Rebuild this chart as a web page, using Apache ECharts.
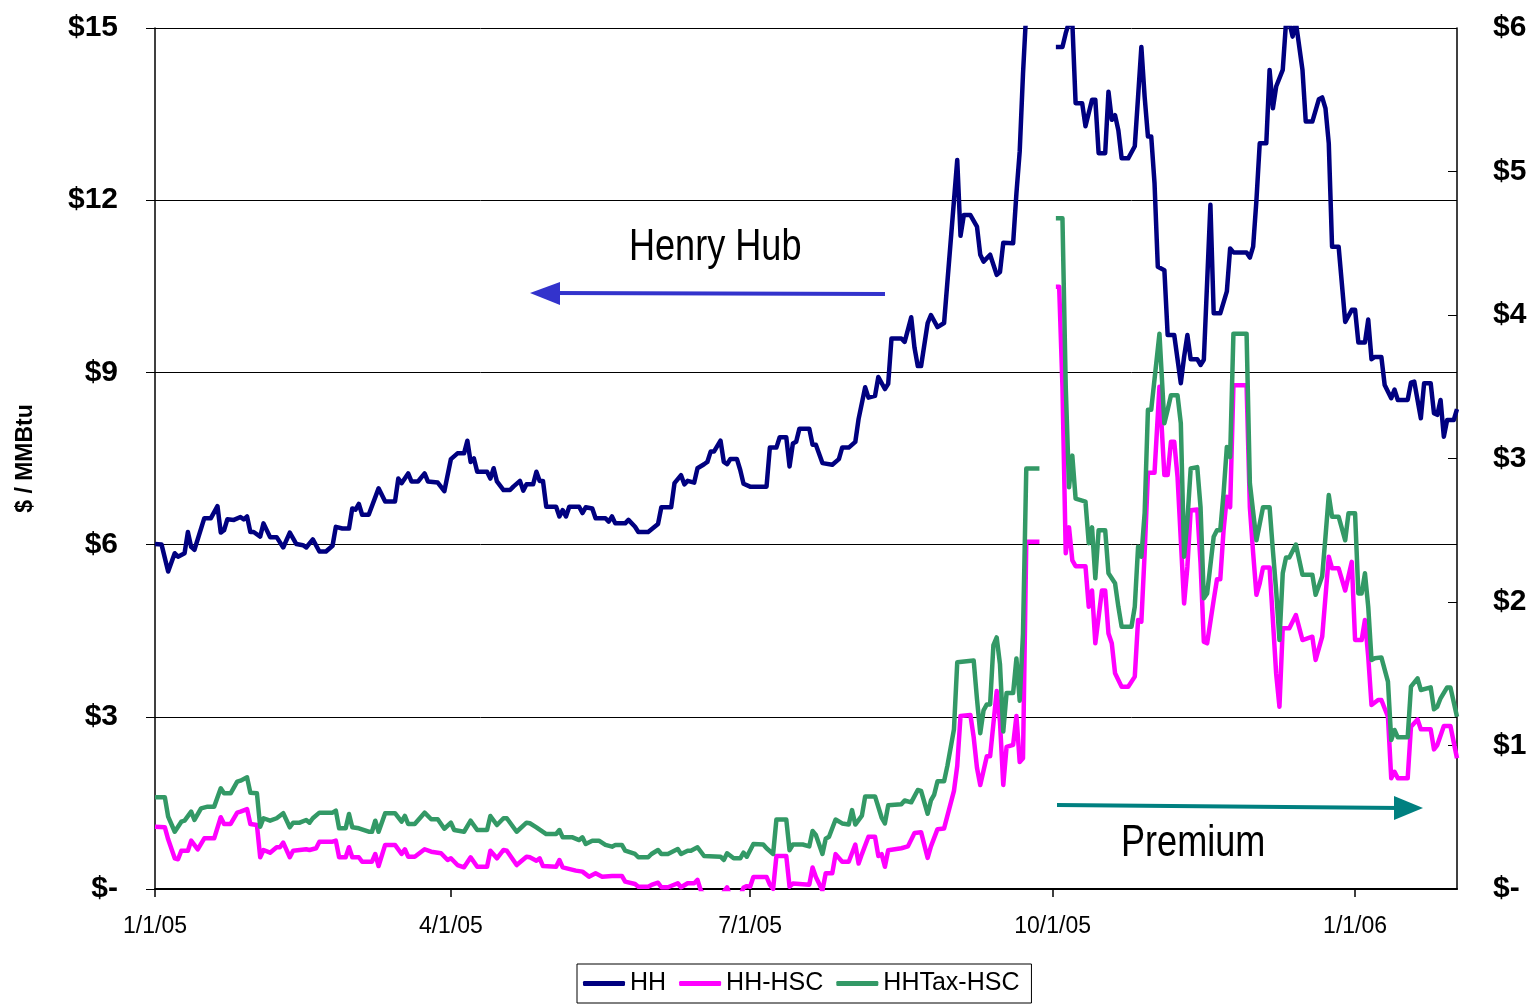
<!DOCTYPE html>
<html>
<head>
<meta charset="utf-8">
<title>Henry Hub vs Premium</title>
<script src="https://cdn.jsdelivr.net/npm/echarts@6/dist/echarts.min.js"></script>
<style>
  html, body { margin: 0; padding: 0; background: #fff; }
  #main { width: 1537px; height: 1005px; }
</style>
</head>
<body>
<div id="main"></div>
<script>
// days counted from 1/1/05, values in $/MMBtu
const hh = [
  [0,6.01],[2,6.00],[4,5.53],[6,5.85],[7,5.79],[9,5.85],[10,6.22],[11,5.96],[12,5.91],[15,6.46],[17,6.46],[19,6.67],[20,6.21],[21,6.25],[22,6.44],[24,6.43],[26,6.48],[27,6.44],[28,6.49],[29,6.22],[30,6.22],[32,6.14],[33,6.37],[35,6.13],[37,6.13],[39,5.95],[41,6.21],[43,6.01],[45,5.99],[46,5.95],[48,6.09],[50,5.88],[52,5.88],[54,5.98],[55,6.31],[57,6.28],[59,6.28],[60,6.63],[61,6.61],[62,6.71],[63,6.52],[65,6.52],[68,6.98],[70,6.75],[73,6.75],[74,7.15],[75,7.07],[77,7.24],[78,7.10],[80,7.10],[82,7.24],[83,7.10],[86,7.08],[88,6.93],[90,7.49],[92,7.59],[94,7.59],[95,7.81],[96,7.44],[97,7.50],[98,7.27],[101,7.27],[102,7.15],[103,7.33],[104,7.10],[106,6.95],[108,6.95],[109,7.01],[111,7.11],[112,6.94],[113,7.05],[115,7.05],[116,7.27],[117,7.11],[118,7.11],[119,6.66],[122,6.66],[123,6.49],[124,6.60],[125,6.49],[126,6.66],[129,6.66],[130,6.55],[131,6.65],[133,6.63],[134,6.46],[137,6.46],[138,6.40],[139,6.49],[140,6.37],[143,6.37],[144,6.43],[146,6.31],[147,6.22],[150,6.22],[153,6.36],[154,6.65],[157,6.65],[158,7.07],[160,7.21],[161,7.05],[162,7.11],[164,7.08],[165,7.33],[167,7.40],[168,7.44],[169,7.62],[170,7.62],[172,7.81],[173,7.44],[174,7.40],[175,7.49],[177,7.49],[178,7.30],[179,7.06],[181,7.01],[186,7.01],[187,7.69],[189,7.69],[190,7.87],[192,7.87],[193,7.36],[194,7.76],[195,7.79],[196,8.02],[199,8.02],[200,7.74],[201,7.74],[203,7.42],[206,7.39],[208,7.49],[209,7.69],[211,7.69],[213,7.79],[214,8.19],[216,8.74],[217,8.56],[219,8.59],[220,8.92],[222,8.71],[223,8.80],[224,9.59],[227,9.59],[228,9.53],[230,9.96],[231,9.43],[232,9.11],[233,9.11],[235,9.86],[236,10.0],[238,9.79],[240,9.86],[244,12.70],[245,11.38],[246,11.74],[248,11.74],[250,11.54],[251,11.05],[252,10.93],[254,11.05],[256,10.70],[257,10.75],[258,11.26],[261,11.25],[262,12.12],[263,12.85],[264,14.2],[265,15.3],[266,16.2],[269,16.2],[270,null],
  [274,14.67],[276,14.67],[277,14.91],[278,15.1],[279,15.1],[280,13.69],[282,13.69],[283,13.29],[285,13.75],[286,13.75],[287,12.82],[289,12.82],[290,13.89],[291,13.40],[292,13.48],[293,13.22],[294,12.73],[296,12.73],[298,12.94],[299,13.80],[300,14.67],[301,13.80],[302,13.11],[303,13.11],[304,12.30],[305,10.84],[306,10.81],[307,10.78],[308,9.65],[310,9.65],[312,8.81],[313,9.27],[314,9.65],[315,9.23],[317,9.23],[318,9.13],[319,9.22],[321,11.92],[322,10.03],[324,10.03],[326,10.41],[327,11.16],[328,11.09],[332,11.09],[333,11.00],[334,11.19],[335,12.0],[336,12.99],[338,12.99],[339,14.27],[340,13.60],[341,13.98],[343,14.27],[344,15.1],[345,15.1],[346,14.85],[347,15.1],[349,14.27],[350,13.37],[352,13.37],[354,13.76],[355,13.79],[356,13.60],[357,12.99],[358,11.19],[360,11.19],[362,9.88],[364,10.09],[365,10.09],[366,9.52],[368,9.52],[369,9.92],[370,9.23],[371,9.27],[373,9.27],[374,8.78],[376,8.55],[377,8.70],[378,8.52],[381,8.52],[382,8.82],[383,8.84],[385,8.20],[386,8.81],[388,8.81],[389,8.29],[390,8.26],[391,8.52],[392,7.88],[393,8.17],[395,8.17],[396,8.36]
];

const hhHsc = [
  [0,0.434],[3,0.430],[4,0.346],[6,0.214],[7,0.207],[8,0.267],[10,0.267],[11,0.337],[13,0.276],[15,0.353],[18,0.353],[20,0.500],[21,0.453],[23,0.453],[25,0.532],[26,0.539],[28,0.557],[29,0.453],[31,0.446],[32,0.221],[33,0.272],[35,0.253],[37,0.291],[38,0.291],[39,0.323],[41,0.221],[42,0.267],[44,0.272],[46,0.277],[47,0.272],[49,0.284],[50,0.330],[54,0.330],[55,0.337],[56,0.221],[58,0.221],[59,0.291],[60,0.221],[62,0.221],[63,0.190],[66,0.190],[67,0.244],[68,0.160],[70,0.307],[73,0.307],[75,0.244],[76,0.277],[77,0.225],[79,0.225],[82,0.277],[84,0.260],[87,0.249],[89,0.202],[90,0.214],[92,0.167],[94,0.151],[96,0.221],[98,0.155],[101,0.155],[102,0.267],[104,0.214],[106,0.272],[107,0.267],[110,0.167],[113,0.225],[114,0.221],[116,0.197],[117,0.214],[118,0.160],[122,0.155],[123,0.202],[124,0.151],[128,0.128],[130,0.121],[132,0.086],[134,0.109],[136,0.086],[139,0.091],[142,0.091],[143,0.051],[146,0.035],[147,0.016],[150,0.016],[151,0.028],[153,0.044],[154,0.012],[156,0.012],[159,0.040],[160,0.012],[162,0.040],[164,0.040],[165,0.063],[166,-0.01],[168,-0.08],[171,-0.1],[173,-0.02],[174,0.012],[175,-0.06],[178,-0.05],[179,0.01],[180,0.02],[181,0.016],[182,0.084],[186,0.084],[187,0.03],[188,0.0],[189,0.23],[192,0.23],[193,0.016],[194,0.038],[199,0.03],[200,0.15],[201,0.084],[203,-0.01],[204,0.11],[206,0.11],[207,0.243],[209,0.19],[211,0.19],[213,0.31],[214,0.177],[215,0.243],[217,0.364],[219,0.364],[220,0.23],[221,0.243],[222,0.155],[223,0.27],[227,0.284],[229,0.297],[231,0.39],[233,0.396],[235,0.217],[236,0.297],[238,0.417],[240,0.422],[243,0.684],[244,0.858],[245,1.206],[248,1.213],[249,1.058],[250,0.845],[251,0.725],[253,0.925],[254,0.925],[256,1.379],[257,1.165],[258,0.725],[259,0.99],[261,1.005],[262,1.206],[263,0.885],[264,0.911],[265,2.42],[269,2.42],[270,null],
  [274,4.197],[275,4.197],[276,3.5],[277,2.34],[278,2.52],[279,2.29],[280,2.25],[283,2.25],[284,1.967],[285,2.08],[286,1.712],[288,2.08],[289,2.08],[290,1.78],[291,1.712],[292,1.503],[294,1.41],[296,1.41],[298,1.48],[299,1.875],[300,1.863],[301,2.34],[302,2.90],[304,2.90],[305.5,3.50],[307,2.885],[308,2.885],[309,3.117],[310,3.117],[311,2.873],[313,1.99],[314,2.246],[315,2.64],[317,2.645],[318,2.27],[319,1.723],[320,1.712],[322,2.014],[323,2.158],[324,2.158],[325,2.50],[326,2.734],[327,2.66],[328,3.51],[332,3.51],[333,2.66],[334,2.34],[335,2.05],[336,2.13],[337,2.24],[339,2.24],[340,1.875],[341,1.50],[342,1.27],[343,1.817],[345,1.817],[347,1.909],[349,1.735],[352,1.758],[353,1.596],[355,1.758],[357,2.316],[358,2.235],[360,2.235],[362,2.08],[364,2.28],[365,1.735],[367,1.735],[368,1.875],[369,1.619],[370,1.282],[372,1.317],[373,1.317],[375,1.20],[376,0.771],[377,0.817],[378,0.771],[381,0.771],[382,1.131],[384,1.182],[385,1.113],[388,1.113],[389,0.973],[390,1.003],[392,1.136],[394,1.136],[396,0.911]
];

const hhTaxHsc = [
  [0,0.639],[3,0.639],[4,0.504],[6,0.399],[8,0.469],[9,0.476],[11,0.539],[12,0.481],[14,0.562],[16,0.574],[18,0.574],[20,0.702],[21,0.667],[23,0.667],[25,0.748],[26,0.755],[28,0.778],[29,0.671],[31,0.667],[32,0.434],[33,0.493],[35,0.476],[37,0.493],[39,0.528],[41,0.430],[42,0.462],[44,0.462],[46,0.481],[47,0.462],[48,0.493],[50,0.532],[54,0.532],[55,0.546],[56,0.423],[58,0.423],[59,0.523],[60,0.430],[62,0.423],[65,0.399],[66,0.399],[67,0.476],[68,0.399],[70,0.528],[73,0.528],[75,0.469],[76,0.509],[77,0.453],[79,0.453],[82,0.532],[84,0.486],[86,0.486],[88,0.42],[90,0.462],[91,0.411],[94,0.399],[96,0.476],[98,0.411],[101,0.411],[102,0.509],[104,0.446],[106,0.493],[107,0.493],[110,0.399],[113,0.462],[114,0.458],[116,0.430],[119,0.383],[122,0.383],[123,0.411],[124,0.360],[127,0.360],[129,0.341],[130,0.360],[131,0.314],[133,0.337],[135,0.337],[137,0.307],[139,0.295],[140,0.307],[142,0.307],[143,0.267],[146,0.244],[147,0.221],[150,0.221],[151,0.244],[153,0.272],[154,0.244],[156,0.244],[159,0.279],[160,0.244],[162,0.267],[163,0.267],[165,0.291],[167,0.230],[172,0.225],[173,0.202],[174,0.249],[176,0.214],[178,0.214],[179,0.253],[180,0.225],[182,0.314],[185,0.31],[186,0.284],[188,0.244],[189,0.484],[192,0.484],[193,0.27],[194,0.31],[197,0.31],[199,0.297],[200,0.404],[201,0.377],[203,0.244],[204,0.35],[205,0.364],[207,0.484],[209,0.457],[211,0.449],[212,0.55],[213,0.449],[215,0.511],[216,0.645],[219,0.645],[221,0.498],[222,0.457],[223,0.583],[227,0.591],[228,0.617],[230,0.604],[232,0.69],[233,0.684],[235,0.524],[236,0.617],[237,0.658],[238,0.751],[240,0.751],[241,0.858],[243,1.112],[244,1.58],[249,1.593],[250,1.325],[251,1.085],[252,1.245],[253,1.286],[254,1.286],[255,1.70],[256,1.753],[257,1.566],[258,1.098],[259,1.366],[261,1.366],[262,1.606],[263,1.312],[264,1.78],[265,2.93],[269,2.93],[270,null],
  [274,4.674],[276,4.674],[277,3.5],[278,2.80],[279,3.02],[280,2.72],[283,2.70],[284,2.41],[285,2.52],[286,2.165],[287,2.50],[289,2.50],[290,2.20],[292,2.13],[293,1.967],[294,1.828],[297,1.828],[298,1.967],[299,2.385],[300,2.316],[301,2.62],[302,3.34],[303,3.34],[305.5,3.87],[307,3.245],[308,3.34],[309,3.44],[311,3.44],[312,3.245],[313,2.316],[314,2.57],[315,2.93],[317,2.94],[318,2.66],[319,2.026],[320,2.06],[322,2.455],[323,2.50],[324,2.50],[325,2.757],[326,3.08],[327,3.01],[328,3.87],[332,3.87],[333,2.827],[335,2.43],[337,2.66],[339,2.66],[340,2.36],[341,2.08],[342,1.735],[343,2.2],[344,2.31],[345,2.31],[347,2.40],[349,2.19],[352,2.19],[353,2.05],[355,2.18],[356,2.455],[357,2.745],[358,2.594],[360,2.594],[362,2.43],[363,2.618],[365,2.618],[366,2.06],[367,2.06],[368,2.20],[369,1.967],[370,1.596],[371,1.608],[373,1.614],[375,1.445],[376,1.038],[377,1.108],[378,1.057],[381,1.057],[382,1.41],[384,1.468],[385,1.387],[388,1.405],[389,1.252],[390,1.27],[391,1.329],[393,1.405],[394,1.405],[396,1.20]
];

const tickDays = [0, 90, 181, 273, 365];
const tickLabels = ['1/1/05', '4/1/05', '7/1/05', '10/1/05', '1/1/06'];
const lastDay = 396;

const toSeries = arr => arr.map(([d, v]) => [d, v === null ? '-' : v]);

const FONT = '"Liberation Sans", Arial, sans-serif';
const NARROW = '44px "Liberation Sans Narrow", "Arial Narrow", "Liberation Sans", sans-serif';
const dollar = v => (v === 0 ? '$-' : '$' + v);

const chart = echarts.init(document.getElementById('main'));

const option = {
    animation: false,
    backgroundColor: '#fff',
    grid: { left: 155, right: 80, top: 28, bottom: 116 },
    legend: {
        data: ['HH', 'HH-HSC', 'HHTax-HSC'],
        icon: 'roundRect',
        left: 577,
        top: 964,
        itemWidth: 42,
        itemHeight: 5,
        itemGap: 13,
        padding: [7, 12, 7, 6],
        borderColor: '#000',
        borderWidth: 1,
        textStyle: { fontSize: 25, color: '#000', fontFamily: FONT }
    },
    xAxis: {
        type: 'value',
        min: 0,
        max: lastDay,
        axisLine: { onZero: false, lineStyle: { color: '#000', width: 2 } },
        axisTick: { show: true, customValues: tickDays, length: 8, lineStyle: { color: '#000', width: 1.5 } },
        axisLabel: {
            customValues: tickDays,
            margin: 26,
            fontSize: 23,
            color: '#000',
            fontFamily: FONT,
            formatter: function (val) {
                const i = tickDays.indexOf(Math.round(val));
                return i >= 0 ? tickLabels[i] : '';
            }
        },
        splitLine: { show: false }
    },
    yAxis: [
        {
            type: 'value',
            position: 'left',
            min: 0,
            max: 15,
            interval: 3,
            name: '$ / MMBtu',
            nameLocation: 'middle',
            nameRotate: 90,
            nameGap: 118,
            nameTextStyle: { fontSize: 23, fontWeight: 'bold', color: '#000', fontFamily: FONT },
            axisLine: { show: true, lineStyle: { color: '#000', width: 1.5 } },
            axisTick: { show: true, length: 9, lineStyle: { color: '#000' } },
            axisLabel: { formatter: dollar, fontSize: 30, fontWeight: 'bold', color: '#000', margin: 37, fontFamily: FONT },
            splitLine: { show: true, lineStyle: { color: '#000', width: 1 } }
        },
        {
            type: 'value',
            position: 'right',
            min: 0,
            max: 6,
            interval: 1,
            axisLine: { show: true, lineStyle: { color: '#000', width: 1.5 } },
            axisTick: { show: true, inside: true, length: 9, lineStyle: { color: '#000' } },
            axisLabel: { formatter: dollar, fontSize: 30, fontWeight: 'bold', color: '#000', margin: 36, fontFamily: FONT },
            splitLine: { show: false }
        }
    ],
    series: [
        {
            name: 'HH',
            type: 'line',
            yAxisIndex: 0,
            data: toSeries(hh),
            symbol: 'none',
            color: '#000080',
            lineStyle: { width: 4.5, color: '#000080', join: 'round' }
        },
        {
            name: 'HH-HSC',
            type: 'line',
            yAxisIndex: 1,
            data: toSeries(hhHsc),
            symbol: 'none',
            color: '#ff00ff',
            lineStyle: { width: 4.5, color: '#ff00ff', join: 'round' }
        },
        {
            name: 'HHTax-HSC',
            type: 'line',
            yAxisIndex: 1,
            data: toSeries(hhTaxHsc),
            symbol: 'none',
            color: '#339966',
            lineStyle: { width: 4.5, color: '#339966', join: 'round' }
        }
    ],
    graphic: [
        {
            type: 'text', x: 629, y: 248, scaleX: 0.82,
            style: { text: 'Henry Hub', font: NARROW, fill: '#000', align: 'left', verticalAlign: 'middle' }
        },
        {
            type: 'line',
            shape: { x1: 885, y1: 294, x2: 552, y2: 293 },
            style: { stroke: '#3333cc', lineWidth: 4 }
        },
        {
            type: 'polygon',
            shape: { points: [[530, 293], [560, 282], [560, 305]] },
            style: { fill: '#3333cc' }
        },
        {
            type: 'line',
            shape: { x1: 1057, y1: 805, x2: 1400, y2: 808 },
            style: { stroke: '#008080', lineWidth: 4 }
        },
        {
            type: 'polygon',
            shape: { points: [[1423, 808], [1394, 796], [1394, 820]] },
            style: { fill: '#008080' }
        },
        {
            type: 'text', x: 1121, y: 844, scaleX: 0.82,
            style: { text: 'Premium', font: NARROW, fill: '#000', align: 'left', verticalAlign: 'middle' }
        }
    ]
};

chart.setOption(option);
</script>
</body>
</html>
